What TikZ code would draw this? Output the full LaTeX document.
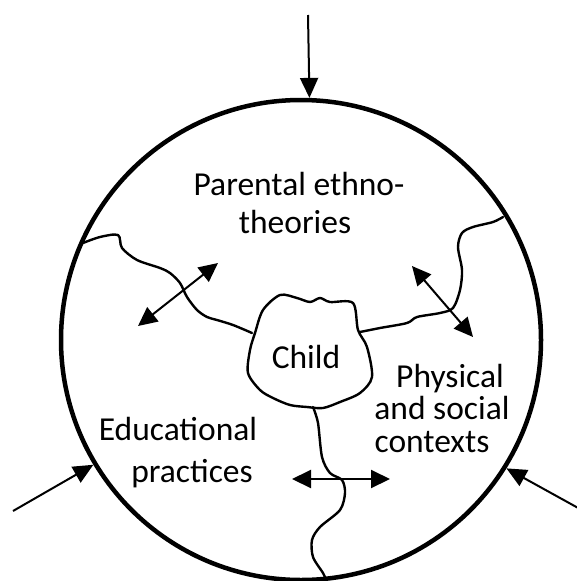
\documentclass[tikz,border=0pt]{standalone}
\usepackage{fontspec}
\setmainfont{Carlito}
\usetikzlibrary{arrows.meta}
\begin{document}
\begin{tikzpicture}[x=1pt,y=-1pt,
  ringstyle/.style={circle, draw, line width=4.5pt, minimum size=480pt, inner sep=0pt},
  border/.style={line width=2.4pt, line join=round, line cap=round},
  flow/.style={line width=2pt, -{Triangle[length=20pt,width=18pt]}},
  both/.style={line width=2pt, {Triangle[length=19pt,width=18pt]}-{Triangle[length=19pt,width=18pt]}},
  lbl/.style={font=\fontsize{33.5}{38}\selectfont, align=center, inner sep=0pt}]
\useasboundingbox (0,0) rectangle (577,581);
\node[ringstyle] (ring) at (301,340) {};
% incoming arrows
\coordinate (topsrc) at (308,15);
\coordinate (leftsrc) at (13,511);
\coordinate (rightsrc) at (580,509);
\draw[flow] (topsrc) -- (ring.88.3);
\draw[flow] (leftsrc) -- (ring.211.5);
\draw[flow] (rightsrc) -- (ring.328.4);
% boundaries
\draw[border] plot[smooth, tension=0.5] coordinates {(83,243) (100,237) (118,235) (122,248) (137,260) (160,268) (170,273) (180,283) (187,297) (197,310) (207,317) (217,320) (233,325) (252,333)};
\draw[border] plot[smooth cycle, tension=0.5] coordinates {(263,310) (280,295) (297,298) (310,302) (320,298) (330,302) (353,303) (358,330) (367,347) (372,377) (360,393) (340,402) (323,408) (307,407) (290,405) (273,398) (260,390) (248,373) (250,350) (255,333)};
\draw[border] plot[smooth, tension=0.5] coordinates {(360,332) (380,328) (407,323) (417,317) (440,313) (453,308) (460,290) (462,270) (458,247) (462,233) (473,227) (493,222) (503,217)};
\draw[border] plot[smooth, tension=0.5] coordinates {(313,407) (318,423) (322,457) (330,473) (342,480) (345,493) (340,510) (320,527) (312,540) (313,557) (323,573) (326,580)};
% labels
\node[lbl, anchor=base] (parent) at (303,233) {Parental ethno-\kern8pt\\theories\kern16pt};
\node[lbl, anchor=base] (child) at (306,368) {Child};
\node[lbl, anchor=base, font=\fontsize{33.5}{42}\selectfont] (edu) at (185,482) {Educational\kern14pt\\\kern14pt practices};
\node[lbl, anchor=base, font=\fontsize{33.5}{32.5}\selectfont] (phys) at (442,452) {\kern16pt Physical\\and social\\contexts\kern20pt};
% double arrows
\coordinate (ula) at (138,326);
\coordinate (ulb) at (218,263);
\coordinate (ura) at (412,266);
\coordinate (urb) at (473,337);
\coordinate (bla) at (292,479);
\coordinate (blb) at (390,479);
\draw[both] (ula) -- (ulb);
\draw[both] (ura) -- (urb);
\draw[both] (bla) -- (blb);
\end{tikzpicture}
\end{document}
